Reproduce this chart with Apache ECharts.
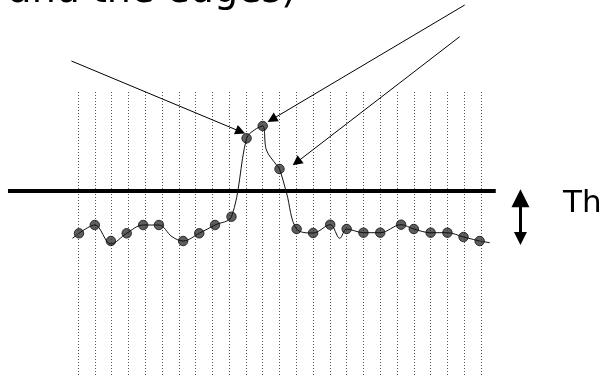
<!DOCTYPE html>
<html>
<head>
<meta charset="utf-8">
<script src="https://cdn.jsdelivr.net/npm/echarts@6/dist/echarts.min.js"></script>
<style>html,body{margin:0;padding:0;background:#fff}#c{width:602px;height:375px}</style>
</head>
<body>
<div id="c"></div>
<script>
// Sample positions (index along the profile) and intensities of the dots
var pointX = [0.06, 1, 1.96, 2.9, 3.88, 4.82, 6.26, 7.22, 8.16, 9.14, 10.04, 11, 12, 13.02, 14, 15.02, 16, 17, 18, 19.24, 20, 21, 22, 22.96, 23.92];
var pointY = [141.7, 150, 134, 141.7, 150, 150, 134, 141.7, 150, 158.3, 236.7, 249, 206, 146, 142, 150.3, 146, 142.3, 142.3, 150.3, 146, 142.3, 142.3, 138, 134];
// Hand-drawn curve through the dots (with its small wiggles)
var curveX = [0.06, 1, 1.96, 2.9, 3.88, 4.82, 5.6, 6.26, 7.22, 8.16, 9.14, 10.04, 10.5, 11, 11.22, 11.82, 12, 12.42, 13.02, 14, 15.02, 15.59, 16, 17, 18, 19.24, 20, 21, 22, 22.96, 23.92];
var curveY = [141.7, 150, 131, 141.7, 150, 150, 138.3, 134, 141.7, 150, 158.3, 236.7, 245, 249, 225, 210, 206, 182, 146, 142, 150.3, 136.7, 146, 142.3, 142.3, 150.3, 146, 142.3, 142.3, 138, 134];
// Loose ends of the hand-drawn curve [fromX, fromY, toX, toY]
var curveEnds = [
  [-0.33, 136.7, 0.06, 141.7],
  [23.92, 134, 24.52, 132.3]
];
// Threshold level and its horizontal extent
var threshold = 184.3;
var thresholdFromTo = [-4.17, 24.88];
// Annotation arrows [fromX, fromY, toX, toY]
var arrows = [
  [-0.39, 314, 9.68, 243.4],
  [23.03, 370, 11.55, 255.6],
  [22.73, 338.3, 13.02, 212.7]
];
var bandArrow = [26.35, 176.8, 26.35, 136.5];
var topText = 'and the edges)';
var thText = 'Th';

var chart = echarts.init(document.getElementById('c'), null, {renderer: 'canvas'});
function seg(a) { return {coords: [[a[0], a[1]], [a[2], a[3]]]}; }
var option = {
  animation: false,
  backgroundColor: '#fff',
  grid: {left: 78, right: 121, top: 92, bottom: 0, containLabel: false},
  xAxis: {
    type: 'value', min: 0, max: 24, interval: 1,
    axisLine: {show: false}, axisTick: {show: false}, axisLabel: {show: false},
    splitLine: {show: true, lineStyle: {color: '#555', width: 1, type: [1, 2]}}
  },
  yAxis: {
    type: 'value', min: 0, max: 283,
    axisLine: {show: false}, axisTick: {show: false}, axisLabel: {show: false},
    splitLine: {show: false}
  },
  series: [
    {
      type: 'lines', coordinateSystem: 'cartesian2d', clip: false, silent: true,
      symbol: ['none', 'none'],
      lineStyle: {color: '#000', width: 4, opacity: 1, curveness: 0},
      data: [{coords: [[thresholdFromTo[0], threshold], [thresholdFromTo[1], threshold]]}]
    },
    {
      type: 'line', clip: false, smooth: 0.35, silent: true,
      data: curveX.map(function (x, i) { return [x, curveY[i]]; }),
      showSymbol: false, symbol: 'none',
      lineStyle: {color: '#111', width: 1}
    },
    {
      type: 'lines', coordinateSystem: 'cartesian2d', clip: false, silent: true,
      symbol: ['none', 'none'],
      lineStyle: {color: '#111', width: 1, opacity: 1, curveness: 0},
      data: curveEnds.map(seg)
    },
    {
      type: 'scatter', clip: false,
      data: pointX.map(function (x, i) { return [x, pointY[i]]; }),
      symbolSize: 9.5,
      itemStyle: {color: '#363636', borderColor: '#111', borderWidth: 1}
    },
    {
      type: 'lines', coordinateSystem: 'cartesian2d', clip: false, silent: true,
      symbol: ['none', 'triangle'], symbolSize: [7, 10],
      lineStyle: {color: '#000', width: 1, opacity: 1, curveness: 0},
      data: arrows.map(seg)
    },
    {
      type: 'lines', coordinateSystem: 'cartesian2d', clip: false, silent: true,
      symbol: ['triangle', 'triangle'], symbolSize: [18, 13],
      lineStyle: {color: '#000', width: 3, opacity: 1, curveness: 0},
      data: [seg(bandArrow)]
    }
  ],
  graphic: [
    {
      type: 'text', silent: true,
      style: {text: topText, x: 296, y: -8, textAlign: 'right', textVerticalAlign: 'middle', verticalAlign: 'middle',
        font: '38px "DejaVu Sans"', fill: '#000'}
    },
    {
      type: 'text', silent: true,
      style: {text: thText, x: 563, y: 204, textAlign: 'left', textVerticalAlign: 'middle', verticalAlign: 'middle',
        font: '31px "DejaVu Sans"', fill: '#000'}
    }
  ]
};
chart.setOption(option);
</script>
</body>
</html>
